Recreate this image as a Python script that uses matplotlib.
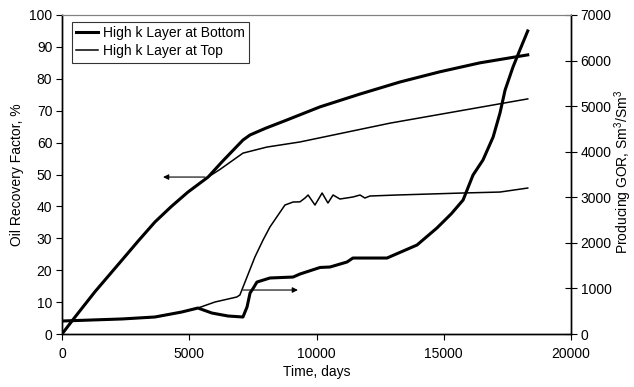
import matplotlib
matplotlib.use("Agg")
import matplotlib.pyplot as plt
from matplotlib.lines import Line2D

plt.rcParams['font.family'] = ['Liberation Sans', 'DejaVu Sans']
plt.rcParams['mathtext.fontset'] = 'custom'
plt.rcParams['mathtext.rm'] = 'Liberation Sans'
plt.rcParams['mathtext.it'] = 'Liberation Sans'

# --- Data ---
series_names = ["High k Layer at Bottom", "High k Layer at Top"]

rec_bot_t = [0, 510, 1300, 2360, 3000, 3650, 4300, 4950, 5740, 6290, 7110, 7390, 8000, 8840,
             10137, 11700, 13280, 14850, 16420, 18300]
rec_bot_v = [0, 5.3, 13.3, 23.2, 29.2, 35.1, 40.0, 44.5, 49.2, 54.0, 60.8, 62.4, 64.5, 67.1,
             71.2, 75.2, 79.0, 82.2, 85.0, 87.5]

rec_top_t = [0, 510, 1300, 2360, 3000, 3650, 4300, 4950, 5740, 6210, 7110, 8050, 9350, 12890, 18300]
rec_top_v = [0, 5.3, 13.3, 23.2, 29.2, 35.1, 40.0, 44.5, 49.2, 51.6, 56.7, 58.6, 60.2, 66.1, 73.7]

gor_bot_t = [0, 2360, 3650, 4700, 5340, 5890, 6520, 7110, 7270, 7390, 7520, 7660, 8170, 9080,
             9350, 10140, 10530, 11200, 11430, 12490, 12770, 13950, 14730, 15300, 15760,
             16150, 16540, 16940, 17210, 17410, 17720, 17990, 18300]
gor_bot_v = [285, 330, 373, 482, 570, 460, 395, 373, 592, 900, 1009, 1140, 1229, 1250,
             1316, 1460, 1470, 1580, 1667, 1667, 1667, 1953, 2325, 2640, 2940,
             3488, 3817, 4322, 4849, 5353, 5858, 6231, 6650]

gor_top_t = [0, 2360, 3650, 4700, 5340, 6010, 6870, 6990, 7580, 7900, 8170, 8760, 9080,
             9350, 9550, 9670, 9940, 10220, 10450, 10650, 10920, 11430, 11710, 11900,
             12100, 13160, 15760, 17210, 18300]
gor_top_v = [285, 330, 373, 482, 570, 702, 812, 856, 1690, 2062, 2348, 2830, 2896,
             2900, 2984, 3050, 2830, 3094, 2874, 3050, 2962, 3006, 3050, 2984,
             3028, 3050, 3094, 3115, 3203]

x_ticks = [0, 5000, 10000, 15000, 20000]
y_ticks = [0, 10, 20, 30, 40, 50, 60, 70, 80, 90, 100]
y2_ticks = [0, 1000, 2000, 3000, 4000, 5000, 6000, 7000]

# --- Figure ---
W, H = 634, 387
fig = plt.figure(figsize=(W / 100, H / 100), dpi=100)
ax = fig.add_axes([62 / W, 1 - 334 / H, (571 - 62) / W, (334 - 15) / H])
ax2 = ax.twinx()

thick, thin = 2.2, 1.1
ax.plot(rec_bot_t, rec_bot_v, color='black', lw=thick, solid_joinstyle='round')
ax.plot(rec_top_t, rec_top_v, color='black', lw=thin, solid_joinstyle='round')
ax2.plot(gor_bot_t, gor_bot_v, color='black', lw=thick, solid_joinstyle='round')
ax2.plot(gor_top_t, gor_top_v, color='black', lw=thin, solid_joinstyle='round')

ax.set_xlim(0, 20000)
ax.set_ylim(0, 100)
ax2.set_ylim(0, 7000)
ax.set_xticks(x_ticks)
ax.set_yticks(y_ticks)
ax2.set_yticks(y2_ticks)

for a in (ax, ax2):
    a.spines['top'].set_color('#808080')
    a.spines['top'].set_linewidth(0.8)
    for s in ('left', 'right', 'bottom'):
        a.spines[s].set_color('black')
        a.spines[s].set_linewidth(1.0)

ax.tick_params(axis='x', direction='out', length=4, width=0.8, labelsize=10, pad=5)
ax.tick_params(axis='y', direction='out', length=4, width=0.8, labelsize=10, pad=3)
ax2.tick_params(axis='y', direction='inout', length=8, width=0.8, labelsize=10, pad=3)

# arrows
ax.annotate('', xy=(3970, 49.2), xytext=(5618, 49.2),
            arrowprops=dict(arrowstyle='-|>', lw=0.8, color='black', mutation_scale=8,
                            shrinkA=0, shrinkB=0))
ax2.annotate('', xy=(9270, 965), xytext=(7110, 965),
             arrowprops=dict(arrowstyle='-|>', lw=0.8, color='black', mutation_scale=8,
                             shrinkA=0, shrinkB=0))

# labels
ax.set_xlabel('Time, days', fontsize=10, labelpad=3)
fig.text(17 / W, 1 - 175 / H, 'Oil Recovery Factor, %', rotation=90,
         ha='center', va='center', fontsize=10)
fig.text(623 / W, 1 - 172 / H, 'Producing GOR, Sm$^3$/Sm$^3$', rotation=90,
         ha='center', va='center', fontsize=10)

handles = [Line2D([], [], color='black', lw=thick), Line2D([], [], color='black', lw=thin)]
leg = ax2.legend(handles, series_names, loc='upper left', bbox_to_anchor=(10 / 509, 1 - 7 / 319),
                 fontsize=10, frameon=True, fancybox=False, edgecolor='black',
                 handlelength=1.6, handletextpad=0.3, borderpad=0.3, labelspacing=0.3,
                 borderaxespad=0)
leg.get_frame().set_linewidth(0.8)

fig.savefig('out.png', dpi=100)
